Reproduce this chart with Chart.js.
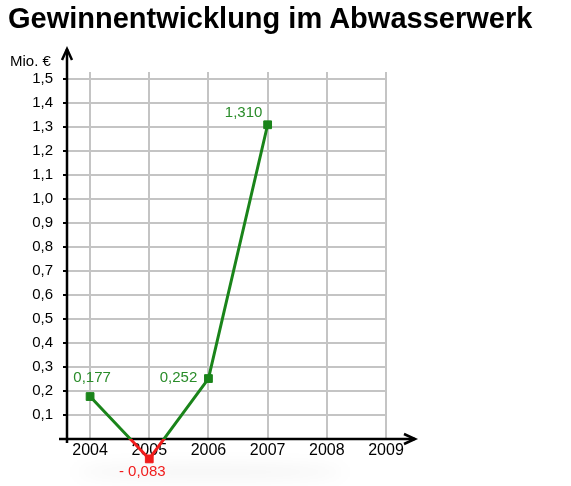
<!DOCTYPE html>
<html>
<head>
<meta charset="utf-8">
<script src="https://cdn.jsdelivr.net/npm/chart.js@4.4.0/dist/chart.umd.min.js"></script>
<style>
  html, body { margin: 0; padding: 0; background: #fff; }
  #wrap { position: relative; width: 571px; height: 486px; }
  #title {
    position: absolute; left: 8px; top: 4px; margin: 0;
    font: bold 29px "Liberation Sans", Arial, sans-serif; line-height: 29px;
    color: #000; white-space: nowrap; z-index: 2;
  }
  canvas { position: absolute; left: 0; top: 0; }
</style>
</head>
<body>
<div id="wrap">
  <h1 id="title">Gewinnentwicklung im Abwasserwerk</h1>
  <canvas id="chart" width="571" height="486"></canvas>
</div>
<script>
// Gewinn in Mio. € je Jahr
const years = [2004, 2005, 2006, 2007];
const profit = [0.177, -0.083, 0.252, 1.310];
const xTicks = [2004, 2005, 2006, 2007, 2008, 2009];
const yTicks = [0.1, 0.2, 0.3, 0.4, 0.5, 0.6, 0.7, 0.8, 0.9, 1.0, 1.1, 1.2, 1.3, 1.4, 1.5];
const unitLabel = "Mio. €";

const GREEN = "#1a841a";
const LABEL_GREEN = "#2a8c2a";
const RED = "#f01c1c";
const FONT = '"Liberation Sans", Arial, sans-serif';

// label offsets relative to each point [dx, dy]
const labelOffsets = [[2, -19], [-7, 13], [-30, -1], [-24, -12]];

const fmt = v => (v < 0 ? "- " : "") + Math.abs(v).toFixed(3).replace(".", ",");

// line colour: green above 0, red below
function lineColor(ctx) {
    const chart = ctx.chart;
    const area = chart.chartArea;
    if (!area) return GREEN;
    const y0 = chart.scales.y.getPixelForValue(0);
    const g = chart.ctx.createLinearGradient(0, area.top, 0, chart.height);
    const f = Math.min(1, Math.max(0, (y0 - area.top) / (chart.height - area.top)));
    g.addColorStop(0, GREEN);
    g.addColorStop(f, GREEN);
    g.addColorStop(f, RED);
    g.addColorStop(1, RED);
    return g;
}

const axesPlugin = {
    id: "axes",
    beforeDatasetsDraw(chart) {
        const { ctx, chartArea: a } = chart;
        const y0 = a.bottom;
        ctx.save();
        // faint shadow under the negative label
        ctx.filter = "blur(8px)";
        ctx.fillStyle = "rgba(0,0,0,0.04)";
        ctx.beginPath();
        ctx.ellipse(210, 472, 135, 8, 0, 0, Math.PI * 2);
        ctx.fill();
        ctx.filter = "none";

        ctx.strokeStyle = "#000";
        ctx.lineWidth = 2.5;
        // y axis with arrow
        ctx.beginPath();
        ctx.moveTo(a.left, y0 + 4);
        ctx.lineTo(a.left, 49);
        ctx.stroke();
        ctx.beginPath();
        ctx.moveTo(a.left - 5, 60);
        ctx.lineTo(a.left, 49);
        ctx.lineTo(a.left + 5, 60);
        ctx.stroke();
        // x axis with arrow
        ctx.beginPath();
        ctx.moveTo(a.left - 8, y0);
        ctx.lineTo(415, y0);
        ctx.stroke();
        ctx.beginPath();
        ctx.moveTo(404, y0 - 5);
        ctx.lineTo(415, y0);
        ctx.lineTo(404, y0 + 5);
        ctx.stroke();

        ctx.fillStyle = "#000";
        ctx.font = "15px " + FONT;
        ctx.textAlign = "left";
        ctx.textBaseline = "alphabetic";
        ctx.fillText(unitLabel, 10, 66);
        ctx.restore();
    },
    afterDatasetsDraw(chart) {
        const { ctx } = chart;
        const meta = chart.getDatasetMeta(0);
        const whole = { left: 0, top: 0, right: chart.width, bottom: chart.height };
        ctx.save();
        // points below the x axis are skipped by the library's area check
        meta.data.forEach((pt, i) => {
            if (profit[i] < 0) pt.draw(ctx, whole);
        });
        ctx.font = "15px " + FONT;
        ctx.textAlign = "center";
        ctx.textBaseline = "middle";
        meta.data.forEach((pt, i) => {
            const v = profit[i];
            const [dx, dy] = labelOffsets[i];
            ctx.fillStyle = v < 0 ? RED : LABEL_GREEN;
            ctx.fillText(fmt(v), pt.x + dx, pt.y + dy);
        });
        ctx.restore();
    }
};

new Chart(document.getElementById("chart"), {
    type: "line",
    data: {
        datasets: [{
            data: years.map((x, i) => ({ x, y: profit[i] })),
            borderColor: lineColor,
            borderWidth: 3,
            pointStyle: "rect",
            pointRadius: 5.5,
            pointBorderWidth: 1,
            pointBackgroundColor: profit.map(v => (v < 0 ? RED : GREEN)),
            pointBorderColor: profit.map(v => (v < 0 ? RED : GREEN)),
            tension: 0,
            clip: false,
        }],
    },
    options: {
        responsive: false,
        animation: false,
        layout: { padding: { top: 72, left: 8, right: 185, bottom: 17 } },
        plugins: {
            legend: { display: false },
            tooltip: { enabled: false },
            title: { display: false },
        },
        scales: {
            x: {
                type: "linear",
                min: 2003.61,
                max: 2009,
                afterBuildTicks: s => { s.ticks = xTicks.map(v => ({ value: v })); },
                afterFit: s => { s.height = 30; },
                grid: { color: "#c4c4c4", lineWidth: 2, drawTicks: false },
                border: { display: false },
                ticks: {
                    autoSkip: false,
                    maxRotation: 0,
                    padding: 2,
                    color: "#000",
                    font: { family: FONT, size: 16 },
                    callback: v => String(v),
                },
            },
            y: {
                min: 0,
                max: 1.53,
                afterBuildTicks: s => { s.ticks = yTicks.map(v => ({ value: v })); },
                afterFit: s => { s.width = 59; },
                grid: { color: "#c4c4c4", lineWidth: 2, tickColor: "#000", tickLength: 4, tickWidth: 2 },
                border: { display: false },
                ticks: {
                    padding: 10,
                    color: "#000",
                    font: { family: FONT, size: 15 },
                    callback: v => v.toFixed(1).replace(".", ","),
                },
            },
        },
    },
    plugins: [axesPlugin],
});
</script>
</body>
</html>
